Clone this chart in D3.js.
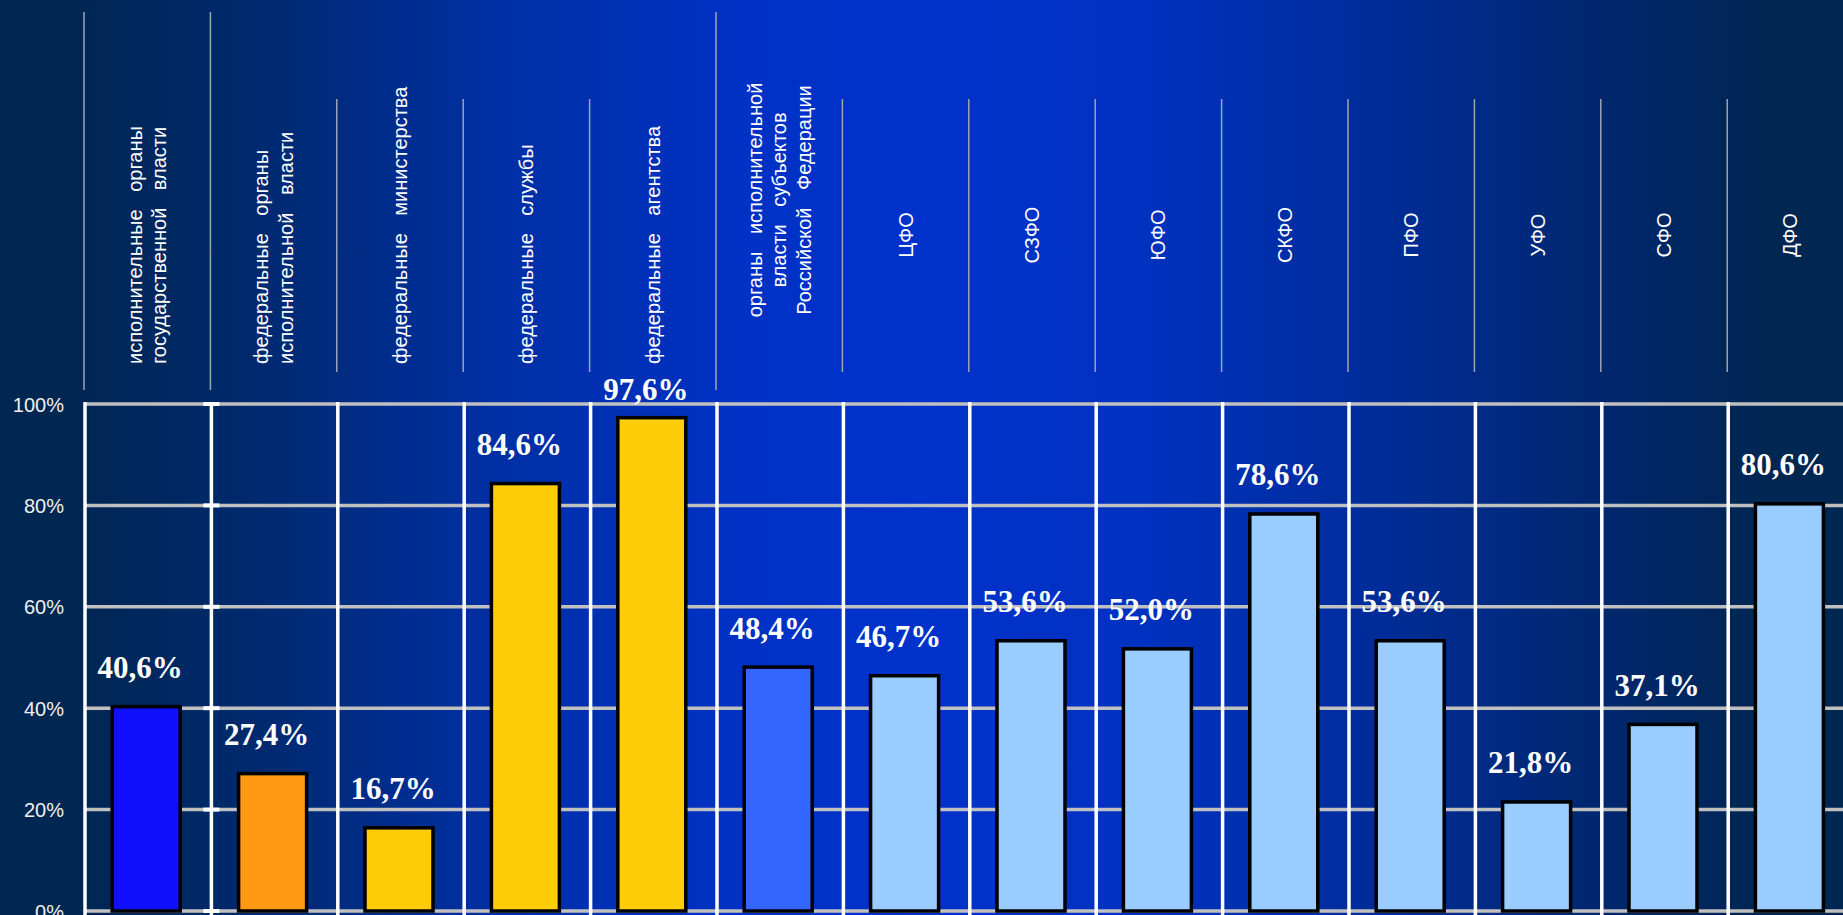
<!DOCTYPE html>
<html><head><meta charset="utf-8">
<script src="https://cdn.jsdelivr.net/npm/d3@7"></script>
<style>html,body{margin:0;padding:0;overflow:hidden;background:#002855}</style>
</head><body><svg id="c" width="1843" height="915"></svg>
<script>
// ---------- data ----------
const headerLines = [
  ["исполнительные органы", "государственной власти"],
  ["федеральные органы", "исполнительной власти"],
  ["федеральные министерства"],
  ["федеральные службы"],
  ["федеральные агентства"],
  ["органы исполнительной", "власти субъектов", "Российской Федерации"],
  ["ЦФО"], ["СЗФО"], ["ЮФО"], ["СКФО"], ["ПФО"], ["УФО"], ["СФО"], ["ДФО"]
];
const categories = headerLines.map(l => l.join(" "));
const groups = ["all", "federal", "fedType", "fedType", "fedType", "regional",
  "district", "district", "district", "district", "district", "district", "district", "district"];
const values = [40.6, 27.4, 16.7, 84.6, 97.6, 48.4, 46.7, 53.6, 52.0, 78.6, 53.6, 21.8, 37.1, 80.6];
const yTicks = [0, 20, 40, 60, 80, 100];
const groupNames = ["all", "federal", "fedType", "regional", "district"];
const groupColors = ["#1010ff", "#ff9912", "#ffcc0a", "#3366ff", "#99ccff"];

// ---------- layout ----------
const W = 1843, H = 915;
const svg = d3.select("#c");
const step = 126.4;
const x = d3.scaleBand().domain(categories).range([85, 85 + step * categories.length]).padding(0);
const y = d3.scaleLinear().domain([0, 100]).range([911, 404]);
const color = d3.scaleOrdinal().domain(groupNames).range(groupColors);
const ru = d3.formatLocale({decimal: ",", thousands: " ", grouping: [3], currency: ["", ""]});
const fmt = ru.format(".1f");

// background gradient
const defs = svg.append("defs");
const grad = defs.append("linearGradient").attr("id", "bg").attr("x1", 0).attr("x2", 1).attr("y1", 0).attr("y2", 0);
[[0, "#002652"], [0.04, "#002652"], [0.15, "#002a72"], [0.27, "#002fa4"], [0.4, "#0031c4"],
 [0.5, "#0032cc"], [0.62, "#0031c0"], [0.75, "#002c98"], [0.88, "#00276a"], [0.96, "#002652"], [1, "#002652"]]
  .forEach(([o, c]) => grad.append("stop").attr("offset", o).attr("stop-color", c));
svg.append("rect").attr("width", W).attr("height", H).attr("fill", "url(#bg)");

// header separators
const bounds = categories.map(c => x(c));
const tallIdx = new Set([0, 1, 5]);
svg.append("g").selectAll("line").data(bounds).join("line")
  .attr("x1", d => d - 1).attr("x2", d => d - 1)
  .attr("y1", (d, i) => tallIdx.has(i) ? 12 : 99)
  .attr("y2", (d, i) => tallIdx.has(i) ? 390 : 372)
  .attr("stroke", "#a0a4b0").attr("stroke-width", 1.5);

// header labels (rotated)
const hg = svg.append("g").attr("font-family", "'Liberation Sans', Arial, sans-serif")
  .attr("font-size", 20).attr("fill", "#ffffff");
headerLines.forEach((lines, i) => {
  const cx = x(categories[i]) + x.bandwidth() / 2 + 6;
  const n = lines.length;
  let anchor, ay;
  if (i < 5) { anchor = "start"; ay = 364; }
  else if (i === 5) { anchor = "middle"; ay = 200; }
  else { anchor = "middle"; ay = 235; }
  lines.forEach((t, j) => {
    const bx = cx + (j - (n - 1) / 2) * 24.5;
    hg.append("text")
      .attr("transform", `translate(${bx},${ay}) rotate(-90)`)
      .attr("text-anchor", anchor)
      .style("word-spacing", "12px")
      .text(t);
  });
});

// horizontal gridlines
svg.append("g").selectAll("line").data(yTicks).join("line")
  .attr("x1", 85).attr("x2", W)
  .attr("y1", d => y(d)).attr("y2", d => y(d))
  .attr("stroke", "#c0c0c0").attr("stroke-width", 3.5);

// vertical gridlines
const vb = bounds.concat([x(categories[categories.length - 1]) + x.bandwidth()]);
svg.append("g").selectAll("line").data(vb).join("line")
  .attr("x1", d => d).attr("x2", d => d)
  .attr("y1", y(100) - 2).attr("y2", H)
  .attr("stroke", "#ffffff").attr("stroke-width", 3.5);

// tick marks on second boundary
svg.append("g").selectAll("rect").data(yTicks).join("rect")
  .attr("x", bounds[1] - 8).attr("y", d => y(d) - 2)
  .attr("width", 16).attr("height", 4).attr("fill", "#ffffff");

// bars
const bw = 68;
svg.append("g").selectAll("rect").data(values).join("rect")
  .attr("x", (d, i) => x(categories[i]) + x.bandwidth() / 2 - 2 - bw / 2)
  .attr("y", d => y(d) + 1.5)
  .attr("width", bw)
  .attr("height", d => y(0) - y(d) - 1.5)
  .attr("fill", (d, i) => color(groups[i]))
  .attr("stroke", "#000").attr("stroke-width", 3.5);

// value labels
svg.append("g").selectAll("text").data(values).join("text")
  .attr("x", (d, i) => x(categories[i]) + x.bandwidth() / 2 - 8)
  .attr("y", d => Math.max(y(d) - 27, 400))
  .attr("text-anchor", "middle")
  .attr("font-family", "'Liberation Serif', 'Times New Roman', serif")
  .attr("font-weight", "bold").attr("font-size", 31).attr("fill", "#ffffff")
  .text(d => fmt(d) + "%");

// y axis
const ax = svg.append("g").attr("transform", "translate(64,0)")
  .call(d3.axisLeft(y).tickValues(yTicks).tickSize(0).tickPadding(0).tickFormat(d => d + "%"));
ax.select(".domain").remove();
ax.selectAll("text").attr("font-family", "'Liberation Sans', Arial, sans-serif")
  .attr("font-size", 20).attr("fill", "#f0f0f0").attr("dy", "0.35em");
</script></body></html>
